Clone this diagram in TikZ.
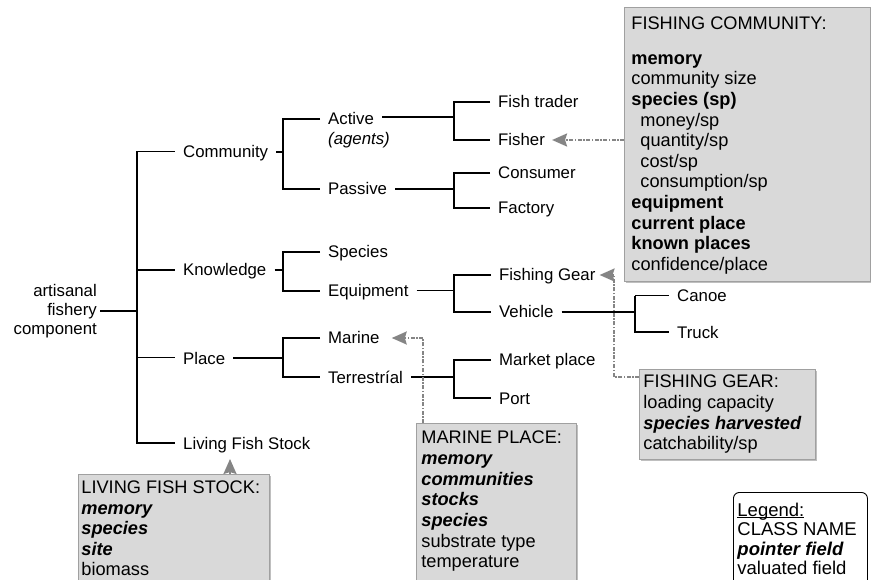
\documentclass[tikz,border=0pt]{standalone}
\usepackage{fontspec}
\setmainfont{Liberation Sans}
\usetikzlibrary{arrows.meta,shadows}
\definecolor{boxfill}{HTML}{D9D9D9}
\definecolor{boxline}{HTML}{A0A0A0}
\definecolor{ptrcol}{HTML}{858585}
\newcommand{\treefont}{\fontsize{16.8}{19}\selectfont}
\newcommand{\bxfont}{\fontsize{18.2}{20.6}\selectfont}
\begin{document}
\begin{tikzpicture}[x=1pt,y=-1pt,
  lbl/.style={font=\treefont, inner xsep=8pt, inner ysep=2pt, text height=12pt, text depth=0pt, anchor=west},
  thk/.style={line width=2.2pt},
  thn/.style={line width=1pt},
  ptr/.style={draw=ptrcol, line width=2.2pt, dash pattern=on 4pt off 1.5pt on 1.5pt off 1.5pt,
    -{Stealth[length=15pt,width=13pt,inset=2pt,fill=ptrcol]}},
  cbox/.style={fill=boxfill, draw=boxline, line width=0.8pt, inner sep=0pt, anchor=north west,
    drop shadow={shadow xshift=1.2pt, shadow yshift=-1.2pt, fill=black!50}},
]
\fill[white] (0,0) rectangle (871,580);
\clip (0,0) rectangle (871,580);

% tree labels
\node[font=\treefont, align=right, anchor=east, inner sep=3pt] (root) at (100,311) {artisanal\\fishery\\component};
\coordinate (rx) at (137,0);
\node[lbl] (comm) at (175,152) {Community};
\node[lbl] (know) at (175,270) {Knowledge};
\node[lbl] (plc) at (175,358) {Place};
\node[lbl] (lfs) at (175,443) {Living Fish Stock};

\coordinate (b2) at (283,0);
\node[lbl] (act) at (320,119) {Active};
\node[lbl] (agt) at (320,139) {\textit{(agents)}};
\node[lbl] (pas) at (320,189) {Passive};
\node[lbl] (spc) at (320,252) {Species};
\node[lbl] (eqp) at (320,291) {Equipment};
\node[lbl] (mar) at (320,338) {Marine};
\node[lbl] (ter) at (320,377) {Terrestríal};

\coordinate (b3) at (454,0);
\node[lbl] (ftr) at (490,102) {Fish trader};
\node[lbl] (fsh) at (490,140) {Fisher};
\node[lbl] (cns) at (490,173) {Consumer};
\node[lbl] (fac) at (490,208) {Factory};
\node[lbl] (gear) at (491,275) {Fishing Gear};
\node[lbl] (veh) at (491,312) {Vehicle};
\node[lbl] (mkt) at (491,360) {Market place};
\node[lbl] (prt) at (491,398) {Port};

\coordinate (b4) at (635,0);
\node[lbl] (can) at (669,296) {Canoe};
\node[lbl] (trk) at (669,332) {Truck};

% level 1
\draw[thk] (root.east) -- (root.east -| rx);
\draw[thk, line cap=rect] (comm.west -| rx) -- (lfs.west -| rx);
\draw[thn] (comm.west -| rx) -- (comm.west);
\draw[thk] (know.west -| rx) -- (know.west);
\draw[thn] (plc.west -| rx) -- (plc.west);
\draw[thk] (lfs.west -| rx) -- (lfs.west);

% level 2
\draw[thk] (comm.east) -- (comm.east -| b2);
\draw[thk] (act.west) -| (pas.west -| b2) -- (pas.west);
\draw[thk] (know.east) -- (know.east -| b2);
\draw[thk] (spc.west) -| (eqp.west -| b2) -- (eqp.west);
\draw[thk] (plc.east) -- (plc.east -| b2);
\draw[thk] (mar.west) -| (ter.west -| b2) -- (ter.west);

% level 3
\draw[thk] ([yshift=2pt]act.east) -- ([yshift=2pt]act.east -| b3);
\draw[thk] (ftr.west) -| (fsh.west -| b3) -- (fsh.west);
\draw[thk] (pas.east) -- (pas.east -| b3);
\draw[thk] (cns.west) -| (fac.west -| b3) -- (fac.west);
\draw[thn] (eqp.east) -- (eqp.east -| b3);
\draw[thk] (gear.west) -| (veh.west -| b3) -- (veh.west);
\draw[thk] (ter.east) -- (ter.east -| b3);
\draw[thk] (mkt.west) -| (prt.west -| b3) -- (prt.west);

% level 4
\draw[thk] (veh.east) -- (veh.east -| b4);
\draw[thk] (can.west -| b4) -- (trk.west -| b4) -- (trk.west);
\draw[thn] (can.west -| b4) -- (can.west);

% boxes
\node[cbox] (fc) at (624,7) {\parbox[t][274pt][t]{246pt}{\bxfont\leftskip=7pt\rule{0pt}{22.3pt}FISHING COMMUNITY:\par\vspace{14.1pt}
\textbf{memory}\par
community size\par
\textbf{species (sp)}\par
\hspace*{9pt}money/sp\par
\hspace*{9pt}quantity/sp\par
\hspace*{9pt}cost/sp\par
\hspace*{9pt}consumption/sp\par
\textbf{equipment}\par
\textbf{current place}\par
\textbf{known places}\par
confidence/place}};

\node[cbox] (gb) at (639,369) {\parbox[t][90pt][t]{176pt}{\bxfont\leftskip=4pt\baselineskip=20.8pt\rule{0pt}{18pt}FISHING GEAR:\par
loading capacity\par
\textbf{\textit{species harvested}}\par
catchability/sp}};

\node[cbox] (mb) at (416,423) {\parbox[t][170pt][t]{160pt}{\bxfont\leftskip=5pt\baselineskip=20.7pt\rule{0pt}{20.3pt}MARINE PLACE:\par
\textbf{\textit{memory}}\par
\textbf{\textit{communities}}\par
\textbf{\textit{stocks}}\par
\textbf{\textit{species}}\par
substrate type\par
temperature}};

\node[cbox] (lb) at (78,474) {\parbox[t][120pt][t]{191pt}{\bxfont\leftskip=3pt\baselineskip=20.5pt\rule{0pt}{19.3pt}LIVING FISH STOCK:\par
\textbf{\textit{memory}}\par
\textbf{\textit{species}}\par
\textbf{\textit{site}}\par
biomass}};

\node[draw, fill=white, rounded corners=6pt, line width=0.9pt, inner sep=0pt, anchor=north west] (leg) at (733,492)
 {\parbox[t][100pt][t]{134pt}{\fontsize{18.5}{19.5}\selectfont\leftskip=4pt\rule{0pt}{23.7pt}\underline{\smash{Legend:}}\par
 CLASS NAME\par
 \textbf{\textit{pointer field}}\par
 valuated field}};

% pointer arrows
\coordinate (gk) at (614,377);
\coordinate (mk) at (423,339);
\coordinate (lk) at (230,459);
\draw[ptr] (fc.west |- fsh.east) -- ([xshift=-1pt]fsh.east);
\draw[ptr] (gb.west |- gk) -- (gk) |- ([xshift=-4pt]gear.east);
\draw[ptr] (mk |- mb.north) |- ([xshift=4pt]mar.east);
\draw[ptr] (lk |- lb.north) -- (lk);
\end{tikzpicture}
\end{document}
